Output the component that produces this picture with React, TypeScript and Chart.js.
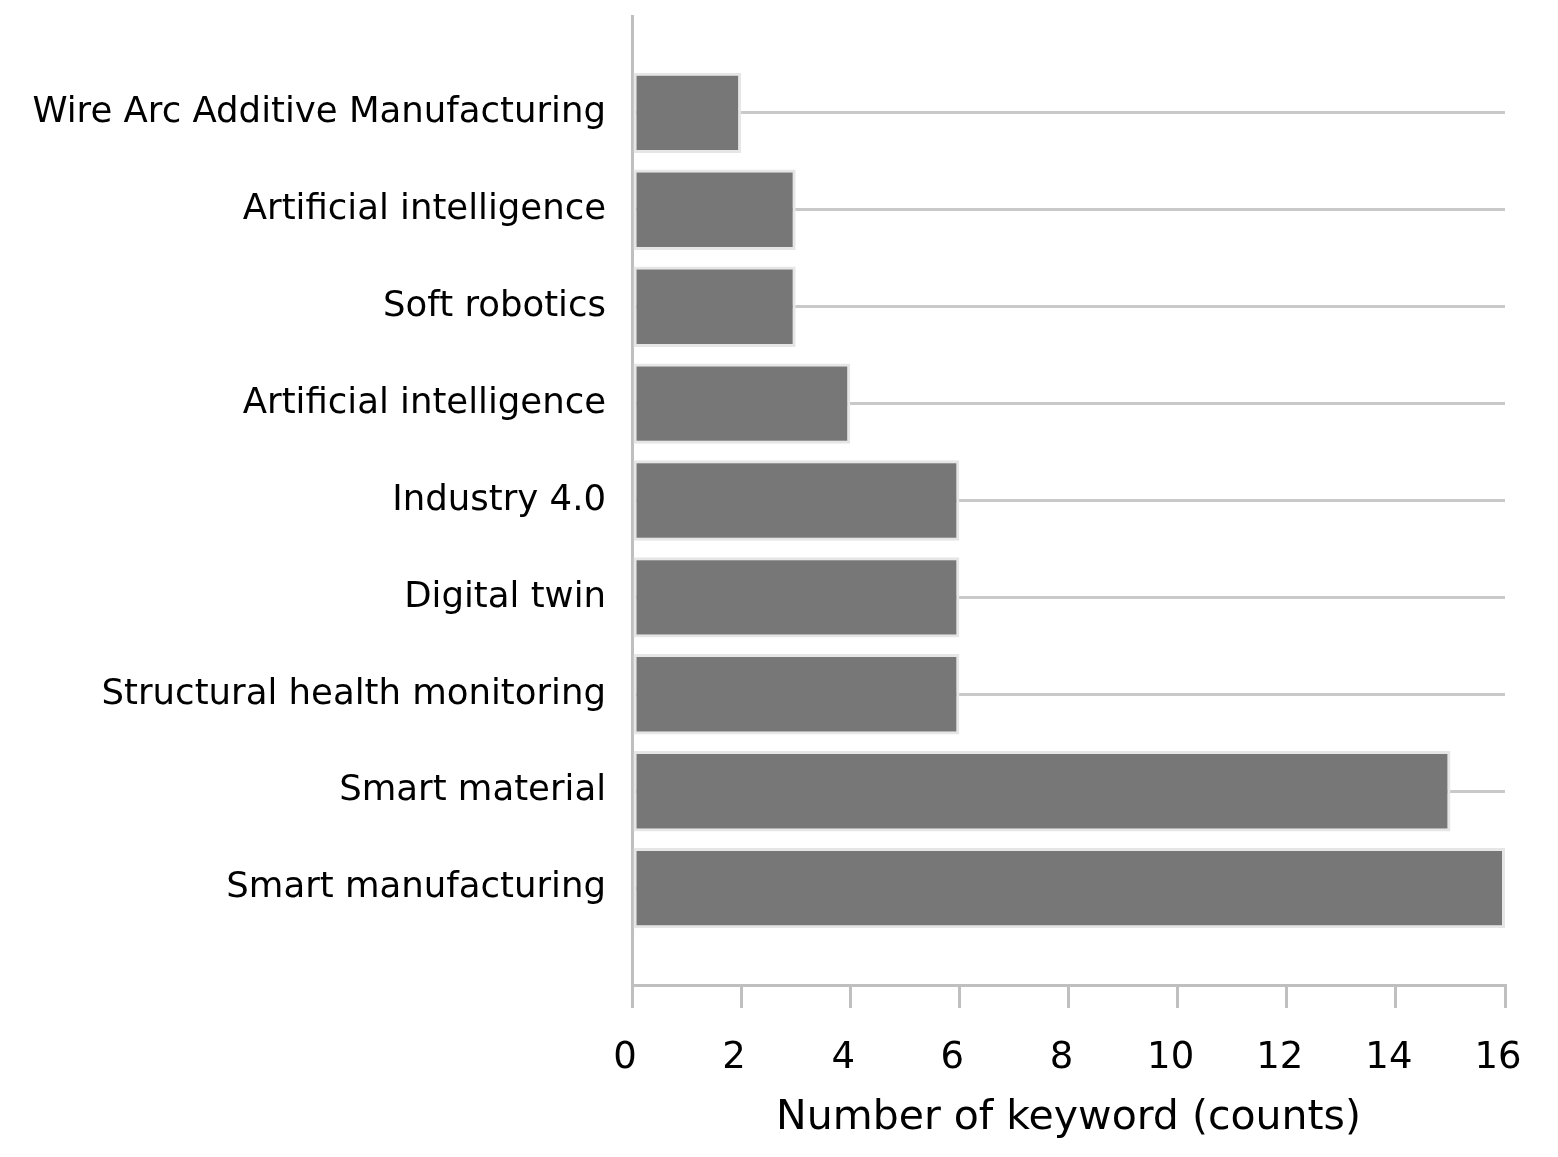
import React, { useEffect, useRef } from "react";
import { Chart, registerables } from "chart.js";

Chart.register(...registerables);

const categories = [
  "Wire Arc Additive Manufacturing",
  "Artificial intelligence",
  "Soft robotics",
  "Artificial intelligence",
  "Industry 4.0",
  "Digital twin",
  "Structural health monitoring",
  "Smart material",
  "Smart manufacturing",
];
const counts = [2, 3, 3, 4, 6, 6, 6, 15, 16];
const xTitle = "Number of keyword (counts)";
const xMin = 0;
const xMax = 16;
const xStep = 2;

const FONT = "DejaVu Sans";

export default function App() {
  const ref = useRef<HTMLCanvasElement | null>(null);

  useEffect(() => {
    if (!ref.current) return;
    const labels = ["", ...categories, ""];
    const values: (number | null)[] = [null, ...counts, null];
    const chart = new Chart(ref.current, {
      type: "bar",
      data: {
        labels,
        datasets: [
          {
            data: values,
            backgroundColor: "#777777",
            borderColor: "#e6e6e6",
            borderWidth: 3,
            borderSkipped: false,
            barPercentage: 0.83,
            categoryPercentage: 1,
          },
        ],
      },
      options: {
        indexAxis: "y",
        responsive: false,
        animation: false,
        layout: { padding: { left: 0, right: 53, top: 16, bottom: 0 } },
        plugins: {
          legend: { display: false },
          tooltip: { enabled: false },
        },
        scales: {
          y: {
            type: "category",
            offset: false,
            z: 1,
            afterFit: (s: any) => {
              s.width = 632;
              s.paddingTop = 0;
              s.paddingBottom = 0;
            },
            grid: {
              offset: false,
              drawTicks: false,
              lineWidth: 3,
              color: (ctx: any) =>
                ctx.tick && ctx.tick.label !== "" ? "rgba(0,0,0,0.21)" : "rgba(0,0,0,0)",
            },
            border: { display: true, color: "rgba(0,0,0,0.25)", width: 3 },
            ticks: {
              padding: 26,
              color: "#000000",
              font: { family: FONT, size: 35.5 },
              autoSkip: false,
            },
          },
          x: {
            type: "linear",
            min: xMin,
            max: xMax,
            afterFit: (s: any) => {
              s.height = 172;
            },
            grid: {
              drawOnChartArea: false,
              drawTicks: true,
              tickLength: 23,
              color: "#bfbfbf",
              lineWidth: 3,
            },
            border: { display: true, color: "#bfbfbf", width: 3 },
            ticks: {
              stepSize: xStep,
              padding: 28,
              labelOffset: -7,
              color: "#000000",
              font: { family: FONT, size: 37 },
            },
            title: {
              display: true,
              text: xTitle,
              color: "#000000",
              font: { family: FONT, size: 41 },
              padding: { top: 0, bottom: 14 },
            },
          },
        },
      },
    });
    return () => chart.destroy();
  }, []);

  return (
    <div style={{ position: "absolute", left: 0, top: 0, width: 1558, height: 1157, background: "#fff" }}>
      <canvas ref={ref} width={1558} height={1157} style={{ width: 1558, height: 1157 }} />
    </div>
  );
}
